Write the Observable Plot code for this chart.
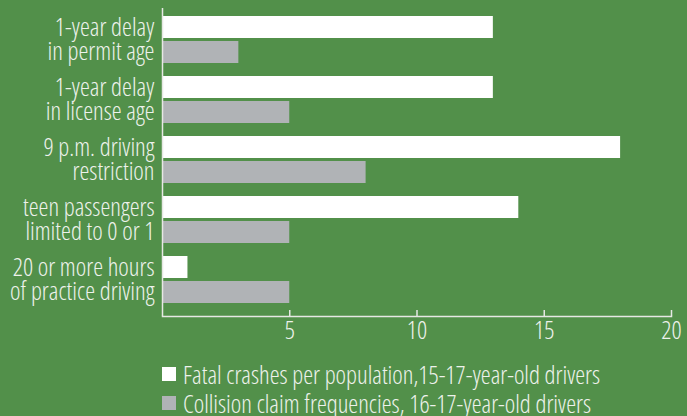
<!DOCTYPE html>
<html>
<head>
<meta charset="utf-8">
<script src="https://cdn.jsdelivr.net/npm/d3@7"></script>
<script src="https://cdn.jsdelivr.net/npm/@observablehq/plot@0.6"></script>
<style>
  html, body { margin: 0; padding: 0; background: #52904a; }
  body { width: 687px; height: 416px; overflow: hidden; font-family: "Open Sans", sans-serif; font-stretch: condensed; font-weight: 300; color: #eef2ec; }
  svg text { font-stretch: condensed; }
  #legend { margin-left: 162px; margin-top: 9px; font-size: 25px; }
  .item { display: flex; align-items: center; height: 29px; }
  .sw { width: 14px; height: 14px; margin-right: 7px; }
</style>
</head>
<body>
<div id="chart"></div>
<div id="legend"></div>
<script>
const categories = [
  "1-year delay\nin permit age",
  "1-year delay\nin license age",
  "9 p.m. driving\nrestriction",
  "teen passengers\nlimited to 0 or 1",
  "20 or more hours\nof practice driving"
];
const fatalCrashes = [13, 13, 18, 14, 1];
const collisionClaims = [3, 5, 8, 5, 5];
const seriesNames = [
  "Fatal crashes per population,15-17-year-old drivers",
  "Collision claim frequencies, 16-17-year-old drivers"
];
const seriesColors = ["#ffffff", "#b0b3b6"];
const xTicks = [5, 10, 15, 20];

const rows = categories.map((c, i) => ({category: c, fatal: fatalCrashes[i], collision: collisionClaims[i]}));
const font = "Open Sans, sans-serif";

const chart = Plot.plot({
  width: 687,
  height: 350,
  marginLeft: 162,
  marginRight: 16,
  marginTop: 8,
  marginBottom: 34,
  style: {background: "#52904a", color: "#eef2ec", fontFamily: font, fontSize: "25px", fontWeight: 300, fontStretch: "condensed"},
  x: {domain: [0, 20]},
  y: {domain: categories, paddingInner: 0.2167, paddingOuter: 0.175, align: 0.38, axis: null},
  marks: [
    Plot.barX(rows, {y: "category", x: "fatal", fill: seriesColors[0], insetBottom: 25}),
    Plot.barX(rows, {y: "category", x: "collision", fill: seriesColors[1], insetTop: 25}),
    Plot.ruleX([0], {stroke: "#e6e8e4", strokeWidth: 1.5}),
    Plot.axisX(xTicks, {anchor: "bottom", tickSize: 0, tickPadding: 5, fontSize: 25, fontWeight: 300, fill: "#eef2ec", stroke: null, tickFormat: d => String(d)}),
    Plot.ruleX(xTicks, {x: d => d, stroke: "#e6e8e4", strokeWidth: 1.5, insetTop: 302}),
    Plot.frame({anchor: "bottom", stroke: "#e6e8e4", strokeWidth: 1.5}),
    Plot.text(rows, {y: "category", text: "category", frameAnchor: "left", textAnchor: "end", dx: -8, fontSize: 25, fontWeight: 300, lineHeight: 0.98, fill: "#eef2ec"})
  ]
});
document.getElementById("chart").appendChild(chart);

const legend = document.getElementById("legend");
seriesNames.forEach((name, i) => {
  const item = document.createElement("div");
  item.className = "item";
  const sw = document.createElement("span");
  sw.className = "sw";
  sw.style.background = seriesColors[i];
  const label = document.createElement("span");
  label.textContent = name;
  item.appendChild(sw);
  item.appendChild(label);
  legend.appendChild(item);
});
</script>
</body>
</html>
